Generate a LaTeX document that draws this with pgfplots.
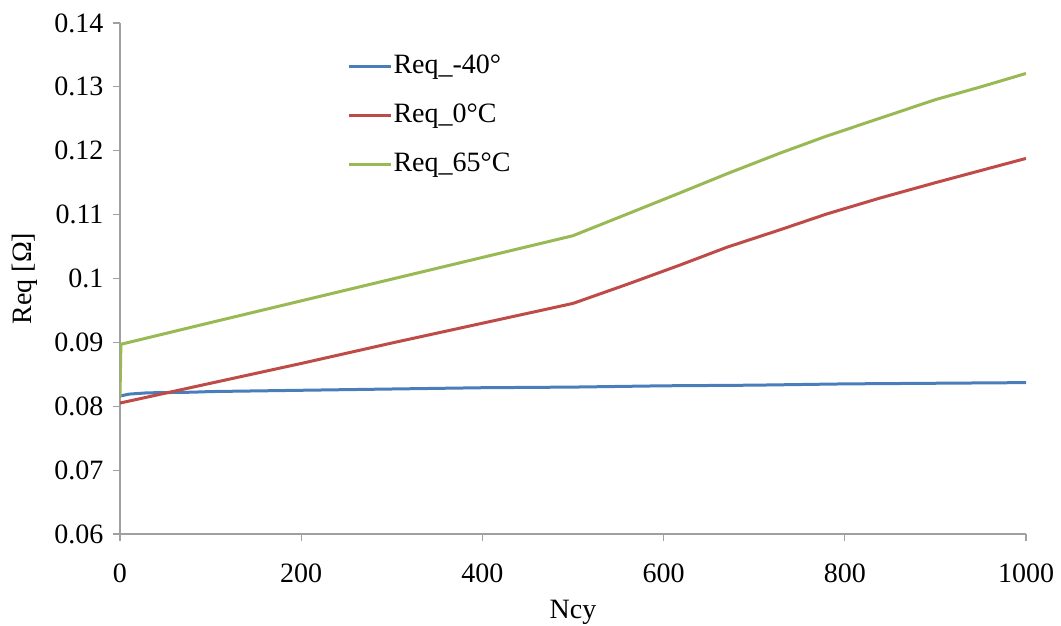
\documentclass[border=0pt]{standalone}
\usepackage{fontspec}
\setmainfont{Liberation Serif}
\usepackage{pgfplots}
\pgfplotsset{compat=1.18}
\usetikzlibrary{calc}
\definecolor{cblue}{HTML}{4A7EBB}
\definecolor{cred}{HTML}{BE4B48}
\definecolor{cgreen}{HTML}{98B954}
\definecolor{caxis}{HTML}{A0A0A0}
\begin{document}
\fontsize{28bp}{33bp}\selectfont
\begin{tikzpicture}
\begin{axis}[
  name=ax,
  scale only axis,
  width=906bp, height=511bp,
  xmin=0, xmax=1000, ymin=0.06, ymax=0.14,
  xtick={0,200,...,1000},
  ytick={0.06,0.07,...,0.141},
  axis x line*=bottom, axis y line*=left,
  axis line style={caxis, line width=1.2bp},
  tick style={caxis, line width=1.2bp},
  tick align=outside,
  major tick length=7bp,
  scaled y ticks=false,
  yticklabel style={/pgf/number format/.cd, fixed, precision=2},
  xticklabel style={/pgf/number format/1000 sep={}, yshift=-13bp},
  /pgf/number format/assume math mode=true,
  ticklabel style={font=\fontsize{28bp}{33bp}\selectfont},
  label style={font=\fontsize{28bp}{33bp}\selectfont},
  xlabel={Ncy},
  ylabel={Req [Ω]},
  xlabel style={yshift=1bp},
  ylabel style={yshift=-2bp},
  legend style={at={(0.2476,0.945)}, anchor=north west, draw=none, fill=none,
    font=\fontsize{28bp}{33bp}\selectfont, row sep=22bp,
    nodes={inner xsep=1bp}},
  legend cell align=left,
  legend image code/.code={\draw[#1] (0bp,0bp) -- (42bp,0bp);},
  every axis plot/.append style={line width=3bp},
]
\addplot[cblue] coordinates {
(0,0.0816) (10,0.0819) (30,0.0821) (80,0.0822) (100,0.0823)
(200,0.0825) (300,0.0827) (400,0.0829) (500,0.0830) (600,0.0832)
(700,0.0833) (800,0.0835) (900,0.0836) (1000,0.0837)};
\addlegendentry{Req\_-40°}
\addplot[cred] coordinates {
(0,0.0805) (100,0.0836) (200,0.0867) (300,0.0899) (400,0.0930) (500,0.0961)
(560,0.0991) (618,0.1021) (670,0.1049) (728,0.1076) (780,0.1101)
(839,0.1126) (900,0.1150) (950,0.1169) (1000,0.1188)};
\addlegendentry{Req\_0°C}
\addplot[cgreen] coordinates {
(0,0.0815) (1,0.0897) (100,0.0931) (200,0.0965) (300,0.0999) (400,0.1033)
(500,0.1067) (560,0.1101) (618,0.1134) (670,0.1164) (728,0.1196)
(780,0.1223) (839,0.1251) (900,0.1280) (950,0.1300) (1000,0.1321)};
\addlegendentry{Req\_65°C}
\end{axis}
\pgfresetboundingbox
\useasboundingbox ($(ax.south west)+(-120bp,-92bp)$) rectangle ($(ax.north east)+(35bp,23bp)$);
\end{tikzpicture}
\end{document}
